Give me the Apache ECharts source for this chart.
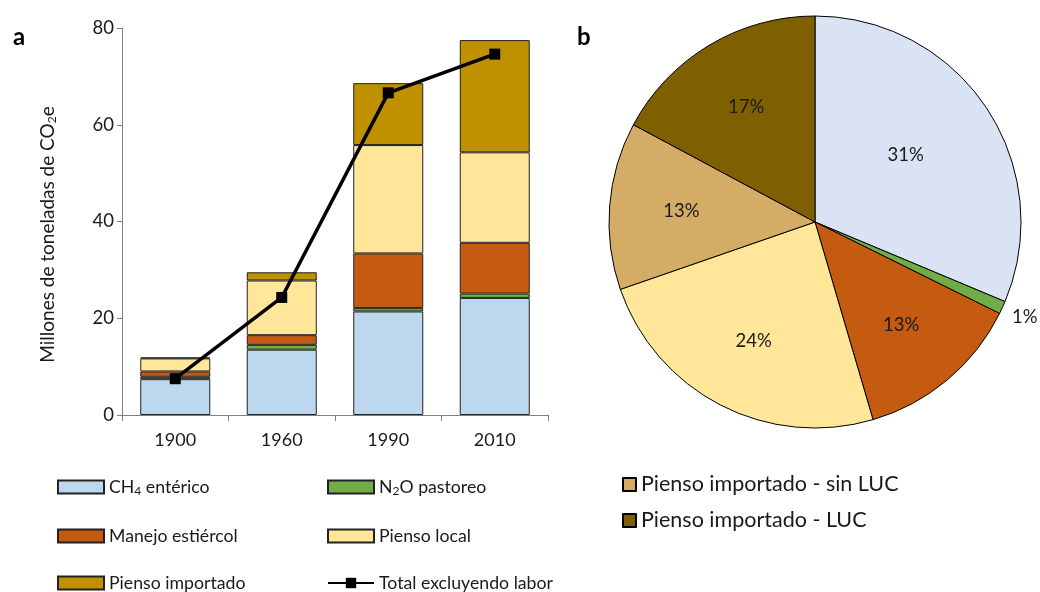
<!DOCTYPE html>
<html>
<head>
<meta charset="utf-8">
<script src="https://cdn.jsdelivr.net/npm/echarts@6/dist/echarts.min.js"></script>
<style>
  html, body { margin: 0; padding: 0; background: #fff; }
  #chart { width: 1040px; height: 592px; }
</style>
</head>
<body>
<div id="chart"></div>
<script>
// Emissions by source, million tonnes CO2e
const years = ['1900', '1960', '1990', '2010'];
const ch4Enterico = [7.4, 13.5, 21.4, 24.2];
const n2oPastoreo = [0.5, 1.0, 0.7, 0.9];
const manejoEstiercol = [1.1, 2.0, 11.3, 10.5];
const piensoLocal = [2.7, 11.3, 22.4, 18.7];
const piensoImportado = [0.2, 1.7, 12.8, 23.2];
const totalSinLabor = [7.5, 24.3, 66.6, 74.6];

// Share of emissions (%), pie panel
const pieNames = ['CH4 entérico', 'N2O pastoreo', 'Manejo estiércol', 'Pienso local',
                  'Pienso importado - sin LUC', 'Pienso importado - LUC'];
const pieShares = [31, 1, 13, 24, 13, 17];

const yTicks = [0, 20, 40, 60, 80];

const FONT = 'Lato, "Noto Sans", sans-serif';
const TXT = '#1a1a1a';
const EDGE = '#222';

const barColors = ['#BDD7EE', '#70AD47', '#C55A11', '#FFE699', '#BF9000'];
const pieColors = ['#DAE3F3', '#70AD47', '#C55A11', '#FFE699', '#D5AC66', '#7F6000'];

const subRich = {
  s: { fontSize: 12, fontFamily: FONT, color: TXT, padding: [8, 0, 0, 0] }
};
function withSub(name) {
  return name.replace('CH4', 'CH{s|4}').replace('N2O', 'N{s|2}O');
}

function barSeries(name, data, color) {
  return {
    name: name,
    type: 'bar',
    stack: 'total',
    barWidth: 70,
    data: data,
    itemStyle: { color: color, borderColor: EDGE, borderWidth: 1 },
    emphasis: { disabled: true }
  };
}

// one legend block per entry, laid out in a 2-column grid under panel a
const legendSlots = [
  ['CH4 entérico', 57, 478], ['N2O pastoreo', 327, 478],
  ['Manejo estiércol', 57, 527], ['Pienso local', 327, 527],
  ['Pienso importado', 57, 574], ['Total excluyendo labor', 327, 574]
];
const barLegends = legendSlots.map(([name, x, y]) => ({
  orient: 'horizontal', left: x, top: y, itemWidth: 46, itemHeight: 13, padding: 0,
  icon: name === 'Total excluyendo labor' ? undefined : 'rect',
  data: [name],
  formatter: withSub,
  textStyle: { fontSize: 17.7, fontFamily: FONT, color: TXT, lineHeight: 18, rich: subRich }
}));

const chart = echarts.init(document.getElementById('chart'));
chart.setOption({
  animation: false,
  textStyle: { fontFamily: FONT, color: TXT },
  title: [
    { text: 'a', left: 8, top: 20, textStyle: { fontFamily: FONT, fontSize: 24, fontWeight: 'bold', color: '#000' } },
    { text: 'b', left: 572, top: 20, textStyle: { fontFamily: FONT, fontSize: 24, fontWeight: 'bold', color: '#000' } }
  ],
  grid: { left: 122, top: 28, width: 426, height: 387, containLabel: false },
  xAxis: {
    type: 'category',
    data: years,
    axisLine: { lineStyle: { color: '#808080', width: 1 } },
    axisTick: { show: true, length: 6, lineStyle: { color: '#808080' } },
    axisLabel: { fontSize: 18, color: TXT, fontFamily: FONT, margin: 16 }
  },
  yAxis: {
    type: 'value',
    min: yTicks[0],
    max: yTicks[yTicks.length - 1],
    interval: 20,
    name: 'Millones de toneladas de CO{s|2}e',
    nameLocation: 'middle',
    nameRotate: 90,
    nameGap: 64,
    nameTextStyle: { fontSize: 19, fontFamily: FONT, color: TXT, rich: subRich, padding: [0, 26, 0, 0] },
    splitLine: { show: false },
    axisLine: { show: true, lineStyle: { color: '#808080', width: 1 } },
    axisTick: { show: true, length: 5, lineStyle: { color: '#808080' } },
    axisLabel: { fontSize: 18.5, color: TXT, fontFamily: FONT, margin: 8 }
  },
  legend: barLegends.concat([
    {
      orient: 'vertical', left: 622, top: 473, itemWidth: 13, itemHeight: 13, itemGap: 13, padding: 0,
      icon: 'rect',
      data: ['Pienso importado - sin LUC', 'Pienso importado - LUC'],
      textStyle: { fontSize: 21.5, fontFamily: FONT, color: TXT, lineHeight: 23 }
    }
  ]),
  series: [
    barSeries('CH4 entérico', ch4Enterico, barColors[0]),
    barSeries('N2O pastoreo', n2oPastoreo, barColors[1]),
    barSeries('Manejo estiércol', manejoEstiercol, barColors[2]),
    barSeries('Pienso local', piensoLocal, barColors[3]),
    barSeries('Pienso importado', piensoImportado, barColors[4]),
    {
      name: 'Total excluyendo labor',
      type: 'line',
      data: totalSinLabor,
      symbol: 'rect',
      symbolSize: 11,
      lineStyle: { color: '#000', width: 3.5 },
      itemStyle: { color: '#000' },
      emphasis: { disabled: true },
      z: 5
    },
    {
      // pie slices with the small outside label
      type: 'pie',
      center: [815, 222],
      radius: [0, 206],
      startAngle: 90,
      clockwise: true,
      silent: true,
      data: pieNames.map((n, i) => ({
        name: n,
        value: pieShares[i],
        itemStyle: { color: pieColors[i] },
        label: i === 1
          ? { show: true, position: 'outside', formatter: '{c}%', fontSize: 18.5, color: TXT,
              fontFamily: FONT, overflow: 'none', width: 40 }
          : { show: false }
      })),
      itemStyle: { borderColor: '#000', borderWidth: 1 },
      label: { edgeDistance: 0 },
      labelLine: { show: false, length: 5, length2: 0 },
      labelLayout: { dy: 7 },
      emphasis: { disabled: true, scale: false }
    },
    {
      // transparent ring carrying the inside percentage labels
      type: 'pie',
      center: [815, 222],
      radius: [0, 262],
      startAngle: 90,
      clockwise: true,
      silent: true,
      z: 3,
      data: pieNames.map((n, i) => ({
        name: n,
        value: pieShares[i],
        label: { show: i !== 1 }
      })),
      itemStyle: { color: 'rgba(0,0,0,0)', borderWidth: 0 },
      label: { position: 'inside', formatter: '{c}%', fontSize: 18.5, color: TXT, fontFamily: FONT },
      labelLine: { show: false },
      // the largest slice keeps its label a little nearer the centre
      labelLayout: (p) => (p.dataIndex === 0 ? { dx: -21, dy: 7 } : {}),
      emphasis: { disabled: true, scale: false }
    }
  ]
});
</script>
</body>
</html>
